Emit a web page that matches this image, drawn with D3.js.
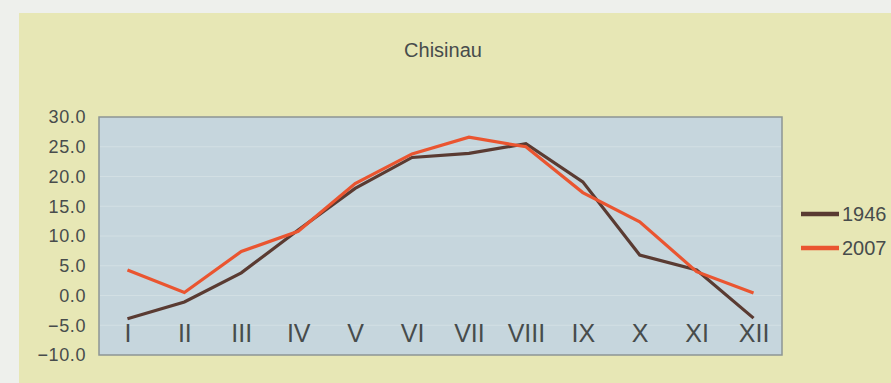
<!DOCTYPE html>
<html>
<head>
<meta charset="utf-8">
<script src="https://cdn.jsdelivr.net/npm/d3@7/dist/d3.min.js"></script>
<style>
  html, body { margin: 0; padding: 0; background: #eef0ec; }
  svg { display: block; }
  text { font-family: "Liberation Sans", Arial, sans-serif; fill: #474c4c; }
</style>
</head>
<body>
<svg id="chart" width="891" height="383"></svg>
<script>
// Monthly mean air temperature, Chisinau (°C)
const months = ["I", "II", "III", "IV", "V", "VI", "VII", "VIII", "IX", "X", "XI", "XII"];
const temps1946 = [-3.9, -1.1, 3.8, 11.0, 18.0, 23.2, 23.9, 25.5, 19.1, 6.8, 4.3, -3.8];
const temps2007 = [4.3, 0.5, 7.4, 10.8, 18.8, 23.8, 26.6, 25.0, 17.3, 12.4, 4.0, 0.4];
const yTicks = [-10, -5, 0, 5, 10, 15, 20, 25, 30];
const seriesNames = ["1946", "2007"];
const seriesColors = ["#5a3b32", "#ea5530"];

const svg = d3.select("#chart");
const W = 891, H = 383;
const textColor = "#474c4c";

// Panel background
svg.append("rect").attr("x", 0).attr("y", 0).attr("width", W).attr("height", H).attr("fill", "#eef0ec");
svg.append("rect").attr("x", 19).attr("y", 13).attr("width", W - 19).attr("height", H - 13).attr("fill", "#e7e7b5");

const plot = { left: 99, right: 782, top: 117, bottom: 355 };

const x = d3.scalePoint().domain(months).range([plot.left, plot.right]).padding(0.5);
const y = d3.scaleLinear().domain([-10, 30]).range([plot.bottom, plot.top]);

// Plot area
svg.append("rect")
  .attr("x", plot.left).attr("y", plot.top)
  .attr("width", plot.right - plot.left).attr("height", plot.bottom - plot.top)
  .attr("fill", "#c6d6dd").attr("stroke", "#8d9594").attr("stroke-width", 1.5);

// Horizontal gridlines
svg.append("g")
  .selectAll("line")
  .data(yTicks.filter(t => t > -10 && t < 30))
  .join("line")
  .attr("x1", plot.left + 1).attr("x2", plot.right - 1)
  .attr("y1", d => y(d)).attr("y2", d => y(d))
  .attr("stroke", "#d2dfe3").attr("stroke-width", 1);

// Y axis labels
const yAxis = d3.axisLeft(y).tickValues(yTicks).tickFormat(d3.format(".1f")).tickSize(0).tickPadding(13);
const yg = svg.append("g").attr("transform", `translate(${plot.left},0)`).call(yAxis);
yg.select(".domain").remove();
yg.selectAll("text").attr("font-size", 18).attr("letter-spacing", 0.6).attr("fill", textColor)
  .style("font-family", "'Liberation Sans', Arial, sans-serif");

// Category labels, drawn inside the plot near its bottom
const xAxis = d3.axisBottom(x).tickSize(0).tickPadding(0);
const xg = svg.append("g").attr("transform", `translate(0,${plot.bottom - 13})`).call(xAxis);
xg.select(".domain").remove();
xg.selectAll("text").attr("font-size", 25).attr("dy", null).attr("y", 0).attr("fill", textColor)
  .style("font-family", "'Liberation Sans', Arial, sans-serif");

// Lines
const line = d3.line().x((d, i) => x(months[i])).y(d => y(d));
[temps1946, temps2007].forEach((vals, k) => {
  svg.append("path")
    .datum(vals)
    .attr("d", line)
    .attr("fill", "none")
    .attr("stroke", seriesColors[k])
    .attr("stroke-width", 3.2)
    .attr("stroke-linejoin", "miter");
});

// Title
svg.append("text")
  .attr("x", 443).attr("y", 57)
  .attr("text-anchor", "middle")
  .attr("font-size", 20)
  .text("Chisinau");

// Legend
const legend = svg.append("g");
seriesNames.forEach((name, k) => {
  const ly = 214 + k * 34;
  legend.append("line")
    .attr("x1", 801).attr("x2", 839).attr("y1", ly).attr("y2", ly)
    .attr("stroke", seriesColors[k]).attr("stroke-width", 4.5);
  legend.append("text")
    .attr("x", 842).attr("y", ly).attr("dy", "0.36em")
    .attr("font-size", 20)
    .text(name);
});
</script>
</body>
</html>
